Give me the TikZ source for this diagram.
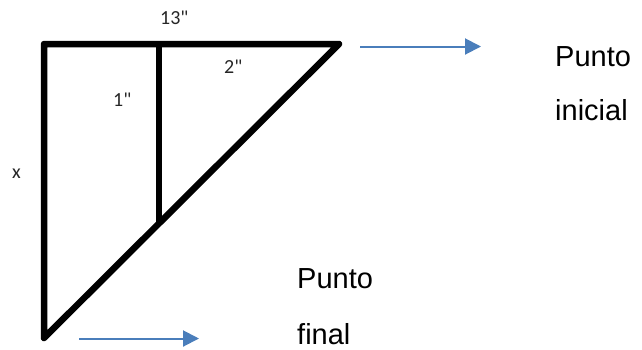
\documentclass[tikz,border=0pt]{standalone}
\usepackage{fontspec}
\setmainfont{Liberation Sans}
\newfontfamily\calib{Carlito}
\usetikzlibrary{arrows.meta}
\definecolor{arrowblue}{HTML}{4A7EBB}
\tikzset{
  frame/.style={line width=6.5pt, line join=round, line cap=round, black},
  bluearrow/.style={line width=2pt, arrowblue, -{Triangle[length=16pt,width=16pt]}},
  smalllabel/.style={font=\calib\fontsize{20}{24}\selectfont, inner sep=0pt, anchor=base west, text=black!85},
  biglabel/.style={font=\fontsize{29}{35}\selectfont, inner sep=0pt, anchor=base west, text=black}
}
\begin{document}
\begin{tikzpicture}[x=1pt,y=-1pt]
\useasboundingbox (0,0) rectangle (642,349);
% triangle corners
\coordinate (TL) at (44,44);
\coordinate (TR) at (339,44);
\coordinate (BL) at (44,338);
\coordinate (MT) at (159,44);
\coordinate (MB) at (159,223);
\draw[frame] (BL) -- (TL) -- (TR) -- cycle;
\draw[frame, line cap=butt] (MT) -- (MB);
% labels
\node[smalllabel] (l13) at (160,24) {13"};
\node[smalllabel] (l2) at (224,73) {2"};
\node[smalllabel] (l1) at (113,106) {1"};
\node[smalllabel] (lx) at (12,178) {x};
% arrows
\coordinate (a1s) at (360,46.5);
\coordinate (a1e) at (481,46.5);
\coordinate (a2s) at (79,338.5);
\coordinate (a2e) at (199,338.5);
\draw[bluearrow] (a1s) -- (a1e);
\draw[bluearrow] (a2s) -- (a2e);
% big labels
\node[biglabel] (pi1) at (555,66) {Punto};
\node[biglabel] (pi2) at (555,120) {inicial};
\node[biglabel] (pf1) at (297,288) {Punto};
\node[biglabel] (pf2) at (297,344) {final};
\end{tikzpicture}
\end{document}
